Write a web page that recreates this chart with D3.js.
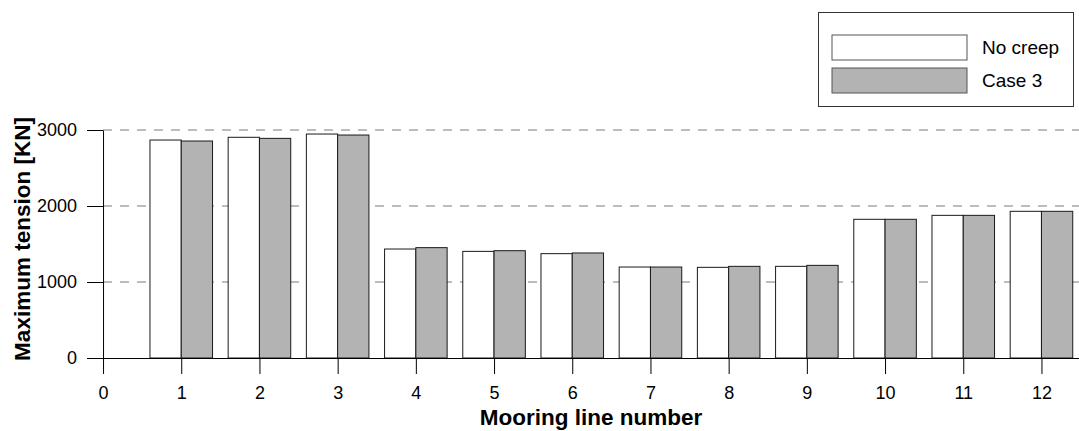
<!DOCTYPE html>
<html>
<head>
<meta charset="utf-8">
<script src="https://cdn.jsdelivr.net/npm/d3@7"></script>
<style>
  html, body { margin: 0; padding: 0; background: #fff; }
  svg { display: block; font-family: "Liberation Sans", Arial, sans-serif; }
</style>
</head>
<body>
<svg id="chart" width="1079" height="431"></svg>
<script>
// ---- Data ----
const categories = [1, 2, 3, 4, 5, 6, 7, 8, 9, 10, 11, 12];
const noCreep = [2868, 2904, 2947, 1434, 1403, 1373, 1197, 1193, 1206, 1825, 1877, 1930];
const case3   = [2855, 2890, 2934, 1452, 1412, 1382, 1197, 1206, 1219, 1825, 1877, 1930];
const seriesNames = ["No creep", "Case 3"];
const seriesColors = ["#ffffff", "#b3b3b3"];
const xTicks = [0, 1, 2, 3, 4, 5, 6, 7, 8, 9, 10, 11, 12];
const yTicks = [0, 1000, 2000, 3000];
const yGrid = [1000, 2000, 3000];

const svg = d3.select("#chart");

const x = d3.scaleLinear().domain([-0.2, 12.48]).range([87.4, 1079]);
const y = d3.scaleLinear().domain([0, 3000]).range([358, 130]);
const barW = (x(1) - x(0)) * 0.4;

// gridlines
svg.append("g").selectAll("line").data(yGrid).join("line")
  .attr("x1", x(0)).attr("x2", 1079)
  .attr("y1", d => y(d)).attr("y2", d => y(d))
  .attr("stroke", "#a6a6a6").attr("stroke-width", 1.3)
  .attr("stroke-dasharray", "9,8");

// bars
const series = [noCreep, case3];
series.forEach((vals, si) => {
  svg.append("g").selectAll("rect").data(categories).join("rect")
    .attr("x", (d, i) => si === 0 ? x(d) - barW : x(d))
    .attr("width", barW)
    .attr("y", (d, i) => y(vals[i]))
    .attr("height", (d, i) => y(0) - y(vals[i]))
    .attr("fill", seriesColors[si])
    .attr("stroke", "#1a1a1a").attr("stroke-width", 1);
});

// x axis
const xAxis = d3.axisBottom(x).tickValues(xTicks).tickSize(16).tickSizeOuter(0)
  .tickPadding(12.5).tickFormat(d3.format("d"));
const gx = svg.append("g").attr("transform", `translate(0,${y(0)})`).call(xAxis);
gx.selectAll("text").attr("font-size", 18).attr("font-family", "Liberation Sans, Arial, sans-serif").attr("fill", "#000");
gx.selectAll("line,path").attr("stroke", "#000");

// y axis
const yAxis = d3.axisLeft(y).tickValues(yTicks).tickSize(16).tickSizeOuter(0).tickPadding(10)
  .tickFormat(d3.format("d"));
const gy = svg.append("g").attr("transform", `translate(${x(0)},0)`).call(yAxis);
gy.selectAll("text").attr("font-size", 18).attr("font-family", "Liberation Sans, Arial, sans-serif").attr("fill", "#000");
gy.selectAll("line,path").attr("stroke", "#000");

// axis titles
svg.append("text")
  .attr("x", 591).attr("y", 425)
  .attr("text-anchor", "middle")
  .attr("font-size", 22.5).attr("font-weight", "bold")
  .text("Mooring line number");

svg.append("text")
  .attr("transform", "translate(30,239) rotate(-90)")
  .attr("text-anchor", "middle")
  .attr("font-size", 22.5).attr("font-weight", "bold")
  .text("Maximum tension [KN]");

// legend
const lg = svg.append("g");
lg.append("rect").attr("x", 818.5).attr("y", 12.5).attr("width", 255).attr("height", 94)
  .attr("fill", "#fff").attr("stroke", "#333").attr("stroke-width", 1);
seriesNames.forEach((name, i) => {
  const yy = 35 + i * 33;
  lg.append("rect").attr("x", 832).attr("y", yy).attr("width", 135).attr("height", 25)
    .attr("fill", seriesColors[i]).attr("stroke", "#555").attr("stroke-width", 1);
  lg.append("text").attr("x", 982).attr("y", yy + 12.5).attr("dy", "0.35em")
    .attr("font-size", 19).text(name);
});
</script>
</body>
</html>
